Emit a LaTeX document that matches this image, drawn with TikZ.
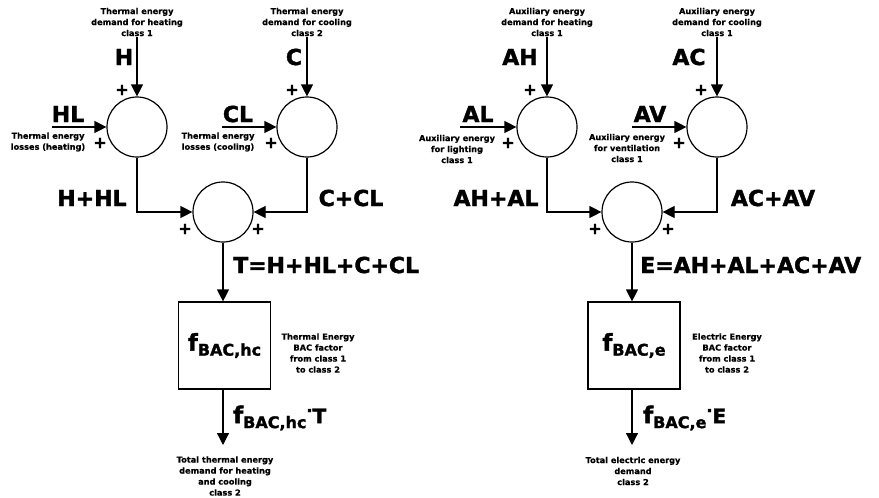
\documentclass[tikz,border=0pt]{standalone}
\usepackage{fontspec}
\setmainfont{DejaVu Sans}
\newfontfamily\heavyfont{DejaVu Sans}[BoldFont=DejaVu Sans Bold, BoldFeatures={FakeBold=1.6}]
\newfontfamily\semifont{DejaVu Sans}[BoldFont=DejaVu Sans Bold, BoldFeatures={FakeBold=0.6}]
\usetikzlibrary{arrows.meta}
\newcommand\fbac[1]{{\fontsize{23}{23}\selectfont f}\raisebox{-5pt}{\fontsize{16}{16}\selectfont #1}}
\newcommand\mdot{\raisebox{7pt}{\fontsize{16}{16}\selectfont\textperiodcentered}}
\tikzset{
  small/.style={font=\semifont\bfseries\fontsize{8.2}{11}\selectfont, align=center, inner sep=1pt},
  big/.style={font=\heavyfont\bfseries\fontsize{22}{22}\selectfont, inner sep=0pt},
  plus/.style={font=\heavyfont\bfseries\fontsize{16}{16}\selectfont, inner sep=0pt},
  sumc/.style={draw, circle, minimum size=60pt, inner sep=0pt, line width=1.2pt},
  boxn/.style={draw, minimum width=92pt, minimum height=87pt, inner sep=0pt, line width=1.2pt, font=\heavyfont\bfseries},
  arr/.style={line width=1.2pt, -{Triangle[length=12pt,width=12pt]}}
}
\begin{document}
\begin{tikzpicture}[x=1pt,y=-1pt]
\useasboundingbox[fill=white] (0,0) rectangle (879,498);
% ---------------- left module ----------------
\node[sumc] (H1) at (137,127) {};
\node[sumc] (C1) at (307,127) {};
\node[sumc] (S1) at (223,212) {};
\node[boxn] (B1) at (224.5,345.5) {\fbac{BAC,hc}};

\node[small] (tH) at (137,22) {Thermal energy\\demand for heating\\class 1};
\node[small] (tC) at (307,22) {Thermal energy\\demand for cooling\\class 2};
\node[big] (lH) at (124,57) {H};
\node[big] (lC) at (294,57) {C};
\node[plus] (pH1) at (122,90) {+};
\node[plus] (pH2) at (100,143) {+};
\node[plus] (pC1) at (292,90) {+};
\node[plus] (pC2) at (271,143) {+};

\coordinate (hl0) at (52,127);
\node[big] (lHL) at (68,114) {HL};
\node[small] (dHL) at (48,142) {Thermal energy\\losses (heating)};
\coordinate (cl0) at (222,127);
\node[big] (lCL) at (238,114) {CL};
\node[small] (dCL) at (218,142) {Thermal energy\\losses (cooling)};

\node[big] (lHHL) at (92,198) {H+HL};
\node[big] (lCCL) at (351,198) {C+CL};
\node[plus] (pS1a) at (185,229) {+};
\node[plus] (pS1b) at (258,229) {+};
\node[big, anchor=west] (lT) at (233,265) {T=H+HL+C+CL};
\node[small] (dB1) at (318,353) {Thermal Energy\\BAC factor\\from class 1\\to class 2};
\node[big, anchor=west] (lFT) at (233,418) {\fbac{BAC,hc}\mdot{\fontsize{20}{20}\selectfont T}};
\coordinate (o1) at (223,445);
\node[small] (tO1) at (225,476) {Total thermal energy\\demand for heating\\and cooling\\class 2};

\draw[arr] (tH.south) -- (H1.north);
\draw[arr] (tC.south) -- (C1.north);
\draw[arr] (hl0) -- (H1.west);
\draw[arr] (cl0) -- (C1.west);
\draw[arr] (H1.south) |- (S1.west);
\draw[arr] (C1.south) |- (S1.east);
\draw[arr] (S1.south) -- (S1.south |- B1.north);
\draw[arr] (S1.south |- B1.south) -- (o1);

% ---------------- right module ----------------
\node[sumc] (H2) at (547,127) {};
\node[sumc] (C2) at (717,127) {};
\node[sumc] (S2) at (632,212) {};
\node[boxn] (B2) at (634,345.5) {\fbac{BAC,e}};

\node[small] (tAH) at (547,22) {Auxiliary energy\\demand for heating\\class 1};
\node[small] (tAC) at (717,22) {Auxiliary energy\\demand for cooling\\class 1};
\node[big] (lAH) at (520,57) {AH};
\node[big] (lAC) at (689,57) {AC};
\node[plus] (pAH1) at (530,90) {+};
\node[plus] (pAH2) at (508,143) {+};
\node[plus] (pAC1) at (701,90) {+};
\node[plus] (pAC2) at (679,143) {+};

\coordinate (al0) at (460,127);
\node[big] (lAL) at (478,114) {AL};
\node[small] (dAL) at (457,149) {Auxiliary energy\\for lighting\\class 1};
\coordinate (av0) at (632,127);
\node[big] (lAV) at (650,114) {AV};
\node[small] (dAV) at (627,148) {Auxiliary energy\\for ventilation\\class 1};

\node[big] (lAHAL) at (496,198) {AH+AL};
\node[big] (lACAV) at (773,198) {AC+AV};
\node[plus] (pS2a) at (595,229) {+};
\node[plus] (pS2b) at (668,229) {+};
\node[big, anchor=west] (lE) at (640,265) {E=AH+AL+AC+AV};
\node[small] (dB2) at (727,353) {Electric Energy\\BAC factor\\from class 1\\to class 2};
\node[big, anchor=west] (lFE) at (643,418) {\fbac{BAC,e}\mdot{\fontsize{20}{20}\selectfont E}};
\coordinate (o2) at (632,445);
\node[small] (tO2) at (633,471) {Total electric energy\\demand\\class 2};

\draw[arr] (tAH.south) -- (H2.north);
\draw[arr] (tAC.south) -- (C2.north);
\draw[arr] (al0) -- (H2.west);
\draw[arr] (av0) -- (C2.west);
\draw[arr] (H2.south) |- (S2.west);
\draw[arr] (C2.south) |- (S2.east);
\draw[arr] (S2.south) -- (S2.south |- B2.north);
\draw[arr] (S2.south |- B2.south) -- (o2);
\end{tikzpicture}
\end{document}
